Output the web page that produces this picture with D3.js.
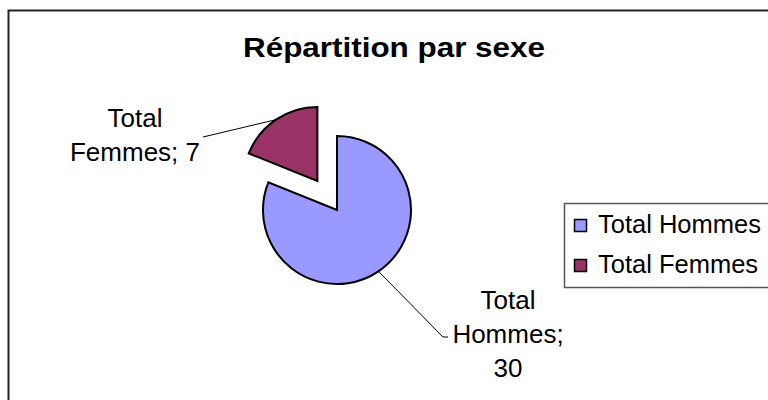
<!DOCTYPE html>
<html>
<head>
<meta charset="utf-8">
<script src="https://cdn.jsdelivr.net/npm/d3@7"></script>
<style>
  body { margin: 0; background: #fff; }
  svg text { font-family: Arial, "Liberation Sans", sans-serif; fill: #000; }
</style>
</head>
<body>
<svg id="chart"></svg>
<script>
// chart data
let categories = ['Total Hommes', 'Total Femmes'];
let labelWords = [['Total', 'Hommes;', '30'], ['Total', 'Femmes; 7']];
let values = [30, 7];
let colors = ['#9999FF', '#993366'];
let title = 'Répartition par sexe';

let width = 768;
let height = 400;

let svg = d3.select('#chart').attr('width', width).attr('height', height);

// outer chart frame (runs off the right / bottom edge like the original)
svg.append('rect')
	.attr('x', 8.5).attr('y', 10.5)
	.attr('width', 800).attr('height', 420)
	.attr('fill', '#fff').attr('stroke', '#222').attr('stroke-width', 2);

// title
svg.append('text')
	.attr('x', 394).attr('y', 57)
	.attr('text-anchor', 'middle')
	.style('font-size', '27px').style('font-weight', 'bold')
	.attr('textLength', 302).attr('lengthAdjust', 'spacingAndGlyphs')
	.text(title);

// pie
let cx = 337, cy = 210, radius = 74, explode = 35;
let pie = d3.pie().sort(null).value((d) => d)(values);
let arc = d3.arc().innerRadius(0).outerRadius(radius);

// femmes slice is pulled out
let offset = (d, i) => {
	if (i !== 1) return [0, 0];
	let a = (d.startAngle + d.endAngle) / 2;
	return [Math.sin(a) * explode, -Math.cos(a) * explode];
};

let slices = svg.append('g').attr('transform', 'translate(' + cx + ',' + cy + ')');

slices.selectAll('path')
	.data(pie)
	.enter()
	.append('path')
	.attr('transform', (d, i) => 'translate(' + offset(d, i) + ')')
	.attr('d', arc)
	.attr('fill', (d, i) => colors[i])
	.attr('stroke', '#000')
	.attr('stroke-width', 2)
	.attr('stroke-linejoin', 'miter');

// data labels with leader lines
let labelSpots = [
	{ line: [[443, 337], [448, 337]], x: 508, y: 309 },
	{ line: [[203, 137]], x: 135, y: 127 }
];

pie.forEach((d, i) => {
	let a = (d.startAngle + d.endAngle) / 2;
	let o = offset(d, i);
	let start = [cx + o[0] + Math.sin(a) * radius, cy + o[1] - Math.cos(a) * radius];
	let pts = [start].concat(labelSpots[i].line);
	svg.append('path')
		.attr('d', d3.line()(pts))
		.attr('fill', 'none')
		.attr('stroke', '#000')
		.attr('stroke-width', 1);

	let t = svg.append('text')
		.attr('text-anchor', 'middle')
		.style('font-size', '26px');
	labelWords[i].forEach((w, k) => {
		t.append('tspan')
			.attr('x', labelSpots[i].x)
			.attr('y', labelSpots[i].y + k * 34)
			.text(w);
	});
});

// legend
let legend = svg.append('g');
legend.append('rect')
	.attr('x', 564.5).attr('y', 203.5)
	.attr('width', 260).attr('height', 84)
	.attr('fill', '#fff').attr('stroke', '#555').attr('stroke-width', 1.5);

let rows = legend.selectAll('.row')
	.data(categories)
	.enter()
	.append('g')
	.classed('row', true)
	.attr('transform', (d, i) => 'translate(0,' + (i * 40) + ')');

rows.append('rect')
	.attr('x', 574.5).attr('y', 219.5)
	.attr('width', 12).attr('height', 12)
	.attr('fill', (d, i) => colors[i])
	.attr('stroke', '#000').attr('stroke-width', 1.5);

rows.append('text')
	.attr('x', 598).attr('y', 233)
	.style('font-size', '25.5px')
	.text((d) => d);
</script>
</body>
</html>
